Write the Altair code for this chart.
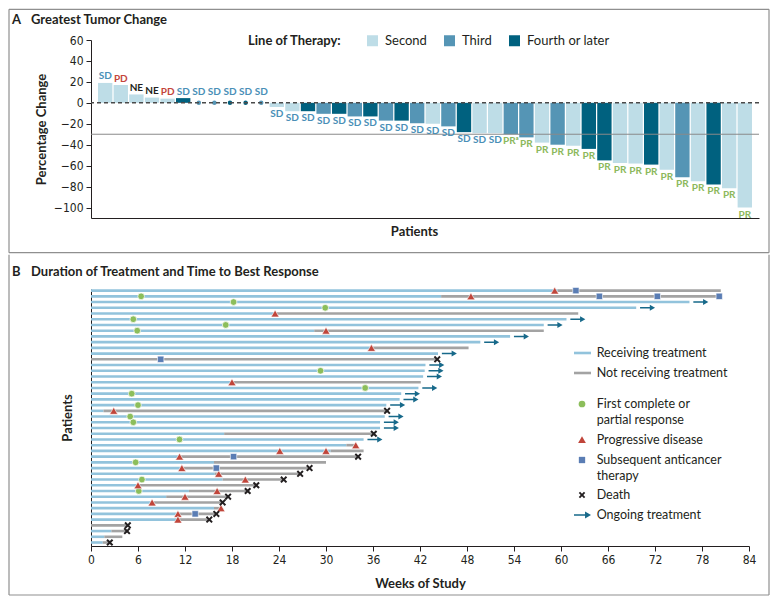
import altair as alt
import pandas as pd

# ---------------- Panel A: greatest tumor change ----------------
tumor_change = [19, 17, 8, 5, 4, 4.5, 0, 0, 0, 0, 0,
                -4, -8, -8, -10.5, -10.5, -13, -13, -17, -17, -19.5, -20, -22.5,
                -28, -29, -29, -30, -33, -38, -40, -41, -44, -55, -57.5, -58, -59,
                -64, -71, -75, -78, -81.5, -100]
line_of_therapy = [
    "Second", "Second", "Second", "Second", "Second", "Fourth or later",
    "Third", "Third", "Fourth or later", "Fourth or later", "Third",
    "Second", "Second", "Fourth or later", "Third", "Fourth or later", "Third",
    "Fourth or later", "Third", "Fourth or later", "Third", "Second", "Third",
    "Fourth or later", "Second", "Second", "Third", "Third", "Second", "Third",
    "Second", "Fourth or later", "Fourth or later", "Second", "Second",
    "Fourth or later", "Second", "Third", "Second", "Fourth or later",
    "Second", "Second"]
best_response = ["SD", "PD", "NE", "NE", "PD"] + ["SD"] * 21 + ["PR\u1d43"] + ["PR"] * 15
therapy_levels = ["Second", "Third", "Fourth or later"]
response_levels = ["SD", "PD", "NE", "PR", "PR\u1d43"]
pct_ticks = [60, 40, 20, 0, -20, -40, -60, -80, -100]

# ---------------- Panel B: duration of treatment ----------------
treatment_end = [59.6, 44.7, 76.4, 69.6, 23.5, 60.7, 57.8, 28.5, 53.5, 49.7,
                 35.8, 44.3, 0, 42.7, 42.6, 42.4, 18.0, 41.8, 39.6, 39.4,
                 37.7, 1.6, 37.5, 36.9, 36.9, 17.0, 34.8, 32.6, 30.6, 11.3,
                 15.7, 11.6, 15.8, 16.8, 6.0, 12.5, 9.6, 7.8, 15.7, 11.1,
                 11.1, 0, 2.6, 1.7, 1.5]
followup_end = [80.4, 80.2, None, None, 62.2, None, None, 57.8, None, None,
                48.2, None, 44.2, None, None, None, 42.1, None, None, None,
                None, 37.8, None, None, None, 36.1, None, 33.8, 34.8, 34.1,
                30.0, 27.9, 26.7, 24.6, 21.1, 20.0, 17.5, 16.8, 16.6, 16.0,
                15.1, 4.7, 4.6, 4.0, 2.4]
ongoing_rows = [3, 4, 6, 7, 9, 10, 12, 14, 15, 16, 18, 19, 20, 21, 23, 24, 25, 27]

response_rows = [2, 3, 4, 6, 7, 8, 15, 18, 19, 21, 23, 24, 27, 31, 34, 36]
response_weeks = [6.4, 18.2, 29.9, 5.4, 17.2, 5.9, 29.3, 35.0, 5.2, 6.0, 5.0, 5.4, 11.3, 5.7, 6.5, 6.1]
progression_rows = [1, 2, 5, 8, 11, 17, 22, 28, 29, 29, 30, 32, 33, 34, 35, 36, 37, 38, 39, 40, 41]
progression_weeks = [59.2, 48.5, 23.5, 30.0, 35.8, 18.0, 2.9, 33.8, 24.1, 30.0, 11.3,
                     11.6, 16.3, 19.7, 6.0, 16.1, 12.0, 7.8, 16.6, 11.1, 11.1]
subsequent_rows = [1, 2, 2, 2, 13, 30, 32, 40]
subsequent_weeks = [61.9, 64.9, 72.3, 80.2, 8.9, 18.2, 16.0, 13.3]
death_rows = [13, 22, 26, 30, 32, 33, 34, 35, 36, 37, 38, 40, 41, 42, 43, 45]
death_weeks = [44.2, 37.8, 36.1, 34.1, 27.9, 26.7, 24.6, 21.1, 20.0, 17.5, 16.8, 16.0, 15.1, 4.7, 4.6, 2.4]
status_levels = ["Receiving treatment", "Not receiving treatment"]
week_ticks = list(range(0, 85, 6))
legend_b_labels = ["Receiving treatment", "Not receiving treatment",
                   ["First complete or", "partial response"], "Progressive disease",
                   ["Subsequent anticancer", "therapy"], "Death", "Ongoing treatment"]

# ---------------- styles ----------------
FONT = "Lato, Open Sans, sans-serif"
NUM = "Liberation Sans Narrow, DejaVu Sans Condensed, Roboto, sans-serif"
INK = "#231f20"
FRAME = "#8f8f8f"
THERAPY_COLORS = ["#bedde7", "#5595b5", "#00617f"]
RESP_COLORS = ["#4a8fb7", "#c4453a", "#231f20", "#8cb85c", "#8cb85c"]
BLUE_LINE = "#92c3dc"
GREY_LINE = "#a3a3a3"
GREEN = "#8cbe5b"
RED = "#c0453a"
SQUARE = "#5a7db4"
ARROW_C = "#17698a"
ARROW = "M-1,-0.1L0.3,-0.1L0.3,-0.4L1,0L0.3,0.4L0.3,0.1L-1,0.1Z"
XMARK = "M-1,-0.6L-0.6,-1L0,-0.4L0.6,-1L1,-0.6L0.4,0L1,0.6L0.6,1L0,0.4L-0.6,1L-1,0.6L-0.4,0Z"

one = pd.DataFrame({"k": [0]})


def hrule(x, x2, y, color=FRAME, width=1.2):
    return alt.Chart(one).mark_rule(color=color, strokeWidth=width).encode(
        x=alt.value(x), x2=alt.value(x2), y=alt.value(y))


def vrule(x, y, y2, color=FRAME, width=1.2):
    return alt.Chart(one).mark_rule(color=color, strokeWidth=width).encode(
        x=alt.value(x), y=alt.value(y), y2=alt.value(y2))


def label(text, x, y, size=13, weight="bold"):
    return alt.Chart(one).mark_text(text=text, align="left", baseline="alphabetic",
                                    font=FONT, fontSize=size, fontWeight=weight,
                                    color=INK, lineHeight=15.6).encode(
        x=alt.value(x), y=alt.value(y))


# ================= Panel A =================
WA, HA = 668, 178
patients = list(range(1, len(tumor_change) + 1))
df_a = pd.DataFrame({"patient": patients, "change": tumor_change,
                     "therapy": line_of_therapy, "response": best_response})

x_a = alt.X("patient:O",
            scale=alt.Scale(domain=patients, paddingInner=0.08, paddingOuter=0.45),
            axis=alt.Axis(title="Patients", ticks=False, labels=False, domainColor=INK,
                          domainWidth=1, titleFont=FONT, titleFontSize=13,
                          titleFontWeight="bold", titleColor=INK, titleX=323, titleY=7,
                          titleBaseline="top"))
y_axis_a = alt.Axis(values=pct_ticks, grid=False, tickSize=5, tickColor=INK,
                    domainColor=INK, labelFont=NUM, labelFontSize=12,
                    labelColor=INK, labelPadding=3, labelOverlap=False,
                    labelFlush=False, title="Percentage Change",
                    titleFont=FONT, titleFontSize=13, titleFontWeight="bold",
                    titleColor=INK, titleX=-43, titleY=HA / 2)
y_scale_a = alt.Scale(domain=[-110, 60], nice=False)
y_a = alt.Y("change:Q", scale=y_scale_a, axis=y_axis_a)
therapy_scale = alt.Scale(domain=therapy_levels, range=THERAPY_COLORS)
resp_scale = alt.Scale(domain=response_levels, range=RESP_COLORS)
therapy_legend = alt.Legend(title="Line of Therapy:", orient="none", legendX=157, legendY=-6,
                            direction="horizontal", titleOrient="left", symbolType="square",
                            symbolSize=121, symbolStrokeWidth=0, labelFont=FONT,
                            labelFontSize=13, labelColor=INK, labelOffset=6,
                            columnPadding=16, titleFont=FONT, titleFontSize=13,
                            titleFontWeight="bold", titleColor=INK, titlePadding=24)

bars = alt.Chart(df_a).transform_filter("datum.change != 0").mark_bar().encode(
    x=x_a, y=y_a, color=alt.Color("therapy:N", scale=therapy_scale, legend=therapy_legend))
dots = alt.Chart(df_a).transform_filter("datum.change == 0").mark_circle(size=20, opacity=1).encode(
    x=x_a, y=y_a, color=alt.Color("therapy:N", scale=therapy_scale, legend=None))
zero_line = alt.Chart(one).mark_rule(color="#4a4a4a", strokeDash=[4, 3], strokeWidth=1.4).encode(
    y=alt.Y(datum=0, scale=y_scale_a, axis=y_axis_a))
pr_line = alt.Chart(one).mark_rule(color="#8a8a8a", strokeWidth=1).encode(
    y=alt.Y(datum=-30, scale=y_scale_a, axis=y_axis_a))


def resp_text(cond, dy):
    return alt.Chart(df_a).transform_filter(cond).mark_text(
        dy=dy, baseline="middle", font=FONT, fontSize=10, fontWeight="bold").encode(
        x=x_a, y=y_a, text="response:N",
        color=alt.Color("response:N", scale=resp_scale, legend=None))


chart_a = alt.layer(
    hrule(-82, 678, -30.7), vrule(-82, -30.7, 212.7), vrule(678, -30.7, 212.7),
    hrule(-82, 678, 212.7),
    label("A", -79, -15.8), label("Greatest Tumor Change", -60, -15.8),
    bars, dots, pr_line, zero_line,
    resp_text("datum.change > 0", -6.5), resp_text("datum.change == 0", -10.5),
    resp_text("datum.change < 0", 7),
).resolve_scale(color="independent").properties(width=WA, height=HA)

# ================= Panel B =================
WB, HB = 658, 257
seg = {"row": [], "week": [], "week_end": [], "status": []}
for r, (t_end, f_end) in enumerate(zip(treatment_end, followup_end), start=1):
    if t_end > 0:
        seg["row"].append(r); seg["week"].append(0); seg["week_end"].append(t_end)
        seg["status"].append(status_levels[0])
    if f_end is not None:
        seg["row"].append(r); seg["week"].append(t_end); seg["week_end"].append(f_end)
        seg["status"].append(status_levels[1])
df_seg = pd.DataFrame(seg)

df_arrow = pd.DataFrame({"row": ongoing_rows,
                         "week": [treatment_end[r - 1] for r in ongoing_rows]})


def events(rows, weeks):
    return pd.DataFrame({"row": rows, "week": weeks})


x_axis_b = alt.Axis(values=week_ticks, grid=False, tickSize=5, tickColor=INK, domainColor=INK,
                    labelFont=NUM, labelFontSize=12, labelColor=INK, labelPadding=3,
                    labelOverlap=False, labelFlush=False,
                    title="Weeks of Study", titleFont=FONT, titleFontSize=13,
                    titleFontWeight="bold", titleColor=INK, titleY=31, titleBaseline="top")
x_scale_b = alt.Scale(domain=[0, 84], nice=False)
y_b = alt.Y("row:Q", scale=alt.Scale(domain=[0.72, 45.61], nice=False, zero=False, reverse=True),
            axis=alt.Axis(ticks=False, labels=False, grid=False, domainColor=INK,
                          title="Patients", titleFont=FONT, titleFontSize=13,
                          titleFontWeight="bold", titleColor=INK, titleX=-17, titleY=128.5))


def xb(field):
    return alt.X(field, scale=x_scale_b, axis=x_axis_b)


lines = alt.Chart(df_seg).mark_rule(strokeWidth=2.6).encode(
    x=xb("week:Q"), x2="week_end:Q", y=y_b,
    color=alt.Color("status:N", scale=alt.Scale(domain=status_levels, range=[BLUE_LINE, GREY_LINE]),
                    legend=None))
arrows = alt.Chart(df_arrow).transform_calculate(arrow_x="datum.week + 1.45").mark_point(
    shape=ARROW, filled=True, size=225, color=ARROW_C, strokeWidth=0, opacity=1).encode(
    x=xb("arrow_x:Q"), y=y_b)
resp_pts = alt.Chart(events(response_rows, response_weeks)).mark_point(
    shape="circle", filled=True, size=45, color=GREEN, stroke="white", strokeWidth=0.7,
    opacity=1).encode(x=xb("week:Q"), y=y_b)
prog_pts = alt.Chart(events(progression_rows, progression_weeks)).mark_point(
    shape="triangle-up", filled=True, size=65, color=RED, stroke="white", strokeWidth=0.6,
    opacity=1).encode(x=xb("week:Q"), y=y_b)
subs_pts = alt.Chart(events(subsequent_rows, subsequent_weeks)).mark_point(
    shape="square", filled=True, size=40, color=SQUARE, stroke="white", strokeWidth=0.6,
    opacity=1).encode(x=xb("week:Q"), y=y_b)
death_pts = alt.Chart(events(death_rows, death_weeks)).mark_point(
    shape=XMARK, filled=True, size=49, color=INK, strokeWidth=0, opacity=1).encode(
    x=xb("week:Q"), y=y_b)

# legend (drawn by hand so that two-line labels line up as in the original)
LEG_SYM_X, LEG_TXT_X = 491, 505.7
LEG_Y = [64, 84, 115, 150.6, 171, 206, 226]
leg_layers = [
    hrule(483, 500, LEG_Y[0], BLUE_LINE, 2.6),
    hrule(483, 500, LEG_Y[1], GREY_LINE, 2.6),
    alt.Chart(one).mark_point(shape="circle", filled=True, size=45, color=GREEN, opacity=1,
                              strokeWidth=0).encode(x=alt.value(LEG_SYM_X), y=alt.value(LEG_Y[2])),
    alt.Chart(one).mark_point(shape="triangle-up", filled=True, size=60, color=RED, opacity=1,
                              strokeWidth=0).encode(x=alt.value(LEG_SYM_X), y=alt.value(LEG_Y[3])),
    alt.Chart(one).mark_point(shape="square", filled=True, size=40, color=SQUARE, opacity=1,
                              strokeWidth=0).encode(x=alt.value(LEG_SYM_X), y=alt.value(LEG_Y[4])),
    alt.Chart(one).mark_point(shape=XMARK, filled=True, size=42, color=INK, opacity=1,
                              strokeWidth=0).encode(x=alt.value(LEG_SYM_X), y=alt.value(LEG_Y[5])),
    alt.Chart(one).mark_point(shape=ARROW, filled=True, size=289, color=ARROW_C, opacity=1,
                              strokeWidth=0).encode(x=alt.value(LEG_SYM_X + 0.5), y=alt.value(LEG_Y[6])),
]
for txt, ly in zip(legend_b_labels, LEG_Y):
    leg_layers.append(label(txt, LEG_TXT_X, ly + 4.3, size=12.5, weight="normal"))

chart_b = alt.layer(
    vrule(-82, -34.3, 306), vrule(678, -34.3, 306), hrule(-82, 678, 306),
    label("B", -79, -13.2), label("Duration of Treatment and Time to Best Response", -60, -13.2),
    lines, arrows, resp_pts, prog_pts, subs_pts, death_pts, *leg_layers,
).properties(width=WB, height=HB)

chart = (alt.vconcat(chart_a, chart_b, spacing=0)
         .properties(padding=0)
         .configure_view(strokeWidth=0)
         .configure_axis(labelOverlap=False))
chart.save("out.html", embed_options={"renderer": "svg", "actions": False})
